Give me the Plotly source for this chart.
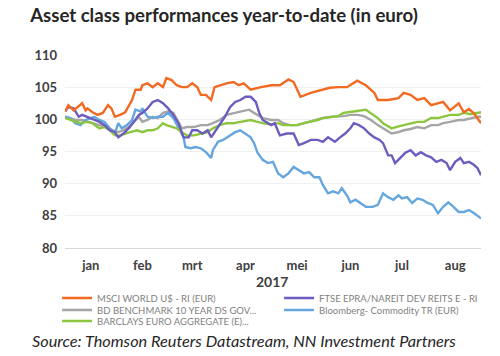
import pandas as pd
import plotly.graph_objects as go

START = pd.Timestamp("2017-01-01")

# ---- data (day offsets from 1 Jan 2017, index values) ----
msci_days = [0, 2, 5, 10, 12, 13, 16, 19, 22, 25, 27, 29, 32, 35, 39, 41, 44, 45, 48, 51,
             54, 57, 59, 62, 65, 68, 71, 74, 77, 79, 82, 85, 87, 90, 94, 98, 101, 104, 108, 114,
             120, 125, 130, 133, 137, 143, 149, 154, 159, 164, 170, 175, 180, 182, 188, 194, 197, 201, 205, 209,
             213, 217, 220, 224, 229, 232, 235, 238, 242]
msci_vals = [101.2, 102.2, 101.4, 102.5, 101.4, 101.7, 101.1, 100.7, 101.0, 102.2,
             101.7, 100.4, 100.7, 101.1, 103.0, 104.6, 104.6, 105.3, 105.6, 105.0,
             105.6, 105.0, 106.4, 106.1, 105.3, 105.0, 105.0, 105.6, 105.0, 103.8,
             103.8, 103.0, 105.0, 105.3, 105.6, 105.8, 105.3, 105.6, 104.6, 105.0,
             105.3, 105.3, 106.2, 105.8, 103.5, 104.1, 104.6, 104.9, 105.0, 105.0,
             106.0, 105.3, 104.1, 103.0, 103.0, 103.3, 104.1, 103.8, 103.0, 103.3,
             102.2, 102.5, 102.7, 101.4, 102.5, 101.1, 101.6, 100.9, 99.4]

ftse_days = [0, 2, 5, 8, 10, 13, 17, 20, 23, 26, 29, 31, 34, 37, 40, 43, 45, 48, 51, 54,
             57, 60, 63, 66, 69, 72, 74, 77, 80, 83, 85, 87, 90, 93, 96, 99, 102, 105, 108, 111,
             113, 115, 120, 122, 125, 129, 133, 136, 139, 143, 147, 150, 153, 157, 160, 163, 166, 168, 171, 174,
             177, 180, 183, 185, 188, 190, 192, 195, 198, 201, 204, 207, 210, 213, 216, 219, 222, 224, 227, 230,
             232, 235, 238, 240, 242]
ftse_vals = [101.2, 101.9, 101.7, 100.4, 100.7, 100.4, 99.9, 99.6, 99.1, 98.3,
             98.0, 97.2, 97.8, 98.6, 99.6, 100.7, 101.0, 101.7, 102.7, 103.0,
             102.5, 101.7, 100.7, 99.4, 97.2, 97.2, 98.3, 98.3, 97.8, 98.3,
             97.2, 98.0, 99.4, 100.4, 101.9, 102.7, 103.0, 103.5, 103.5, 102.7,
             101.0, 99.9, 99.1, 99.4, 97.5, 97.8, 97.8, 96.0, 96.3, 96.8,
             96.8, 96.5, 97.2, 96.5, 97.2, 97.8, 98.6, 99.4, 99.1, 98.6,
             97.8, 97.2, 96.8, 96.3, 94.4, 94.4, 93.2, 94.0, 94.8, 95.2,
             94.4, 94.9, 94.4, 94.1, 93.4, 93.7, 93.2, 92.1, 93.4, 94.0,
             93.2, 93.4, 92.9, 92.4, 91.3]

bd_days = [0, 3, 6, 10, 13, 16, 20, 24, 28, 31, 34, 37, 40, 43, 45, 48, 51, 54, 57, 60,
           63, 66, 68, 71, 75, 79, 83, 86, 90, 94, 98, 102, 107, 112, 115, 120, 124, 127, 131, 135,
           139, 143, 147, 150, 155, 159, 162, 166, 170, 174, 178, 182, 185, 190, 194, 197, 201, 205, 209, 213,
           217, 220, 224, 229, 232, 236, 240, 242]
bd_vals = [100.4, 100.2, 99.9, 99.9, 99.6, 99.4, 99.1, 98.8, 98.3, 98.0,
           98.3, 98.8, 99.6, 100.4, 99.6, 99.9, 100.4, 100.2, 101.0, 101.2,
           101.0, 99.6, 98.6, 98.8, 98.8, 99.1, 99.1, 99.4, 99.9, 100.7,
           101.0, 101.2, 101.5, 100.7, 100.2, 99.9, 99.9, 99.4, 99.1, 99.1,
           99.4, 99.6, 99.9, 100.2, 100.4, 100.4, 100.5, 100.7, 100.7, 100.5,
           99.9, 99.1, 98.6, 97.8, 98.0, 98.3, 98.5, 98.8, 98.6, 99.1,
           99.1, 99.4, 99.6, 99.9, 99.9, 100.2, 100.4, 100.4]

bbg_days = [0, 3, 6, 9, 12, 15, 17, 20, 23, 26, 29, 31, 33, 36, 39, 41, 44, 45, 48, 51,
            54, 57, 60, 63, 66, 69, 70, 73, 76, 79, 82, 85, 86, 89, 92, 96, 99, 102, 105, 108,
            110, 112, 115, 118, 121, 124, 127, 130, 133, 136, 139, 142, 145, 148, 150, 153, 156, 159, 161, 164,
            166, 169, 172, 175, 179, 182, 185, 188, 191, 194, 196, 199, 202, 205, 208, 211, 214, 217, 220, 223,
            226, 229, 232, 235, 238, 242]
bbg_vals = [100.4, 100.2, 99.4, 99.1, 99.9, 100.2, 100.4, 99.9, 99.6, 98.6,
            97.8, 99.4, 98.6, 99.1, 99.9, 101.5, 101.2, 101.7, 100.4, 100.2,
            100.4, 100.4, 101.0, 100.2, 98.8, 97.2, 95.7, 95.5, 95.7, 95.5,
            94.9, 94.0, 95.2, 96.5, 96.8, 97.5, 98.0, 98.3, 97.8, 97.2,
            96.3, 94.8, 93.7, 93.2, 93.4, 91.6, 91.0, 91.6, 92.6, 92.1,
            91.6, 91.8, 91.0, 91.0, 89.8, 88.5, 88.8, 88.5, 89.3, 88.2,
            87.1, 87.5, 87.0, 86.4, 86.4, 86.7, 88.5, 87.9, 87.5, 88.2,
            87.7, 87.9, 87.0, 87.7, 87.5, 87.0, 86.7, 85.4, 86.4, 87.1,
            86.4, 85.6, 85.6, 85.9, 85.4, 84.6]

barc_days = [0, 3, 6, 9, 13, 16, 20, 23, 26, 29, 32, 35, 38, 42, 45, 48, 51, 54, 57, 59,
             62, 65, 68, 71, 75, 79, 83, 86, 90, 94, 98, 102, 108, 112, 115, 120, 124, 127, 131, 135,
             139, 143, 147, 150, 155, 159, 162, 166, 170, 175, 178, 182, 185, 190, 194, 197, 201, 205, 209, 213,
             217, 220, 224, 229, 232, 236, 242]
barc_vals = [100.2, 99.9, 99.6, 99.4, 99.6, 99.4, 98.6, 98.8, 98.3, 97.5,
             97.5, 97.8, 98.0, 98.3, 98.0, 98.3, 98.3, 98.6, 99.4, 99.1,
             98.8, 98.6, 98.0, 97.5, 97.5, 97.8, 98.0, 98.6, 99.1, 99.4,
             99.4, 99.6, 99.9, 99.6, 99.4, 99.2, 99.4, 99.1, 99.1, 99.1,
             99.4, 99.6, 99.9, 100.2, 100.4, 100.5, 101.0, 101.2, 101.3, 101.5,
             101.0, 100.2, 99.4, 98.6, 98.9, 99.1, 99.4, 99.6, 99.6, 100.2,
             100.2, 100.4, 100.7, 100.7, 101.0, 100.8, 101.1]

month_labels = ["jan", "feb", "mrt", "apr", "mei", "jun", "jul", "aug"]
month_mid = ["2017-01-16", "2017-02-15", "2017-03-16", "2017-04-16",
             "2017-05-16", "2017-06-16", "2017-07-16", "2017-08-16"]

# name, days, values, colour, legend row
series = [
    ("BD BENCHMARK 10 YEAR DS GOV...", bd_days, bd_vals, "#A5A5A5", "legend2"),
    ("Bloomberg- Commodity TR (EUR)", bbg_days, bbg_vals, "#66A6DE", "legend2"),
    ("BARCLAYS EURO AGGREGATE (E)...", barc_days, barc_vals, "#8CC63F", "legend3"),
    ("FTSE EPRA/NAREIT DEV REITS E - RI", ftse_days, ftse_vals, "#6D5CBF", "legend"),
    ("MSCI WORLD U$ - RI (EUR)", msci_days, msci_vals, "#F26A21", "legend"),
]

fig = go.Figure()
for name, days, vals, color, lg in series:
    dates = START + pd.to_timedelta(days, unit="D")
    fig.add_trace(go.Scatter(x=dates, y=vals, mode="lines", name=name, legend=lg,
                             line=dict(color=color, width=2.4)))

# the page body adds an 8px offset, so the figure is 492x348
W, H = 492, 348
legend_common = dict(orientation="h", xref="paper", yref="paper",
                     x=-0.019, xanchor="left", yanchor="middle",
                     font=dict(family="Lato", size=9.5, color="#7F7F7F"), entrywidth=177,
                     tracegroupgap=0, itemwidth=30, bgcolor="rgba(0,0,0,0)")

fig.update_layout(
    width=W, height=H,
    margin=dict(l=57, r=19, t=47, b=108, autoexpand=False),
    paper_bgcolor="white", plot_bgcolor="white",
    font=dict(family="Lato, Open Sans, sans-serif", color="#595959"),
    title=dict(text="<b>Asset class performances year-to-date (in euro)</b>",
               x=0.045, xanchor="left", y=1 - 0.5 / H, yanchor="top",
               font=dict(family="Lato", size=18.6, color="#262626")),
    showlegend=True,
    legend=dict(**legend_common, y=-0.259, traceorder="reversed"),
    legend2=dict(**legend_common, y=-0.321, traceorder="normal"),
    legend3=dict(**legend_common, y=-0.378, traceorder="normal"),
)
fig.update_xaxes(
    range=["2017-01-01", "2017-08-31"],
    tickvals=month_mid, ticktext=month_labels,
    showgrid=False, showline=True, linecolor="#D9D9D9", linewidth=1,
    ticks="", ticklabelstandoff=5,
    tickfont=dict(size=13, color="#404040", weight="bold"),
)
fig.update_yaxes(
    range=[80, 110], dtick=5, showgrid=True, gridcolor="#F0F0F0",
    zeroline=False, ticks="", tickfont=dict(size=13, color="#404040", weight="bold"),
    ticklabelstandoff=7,
)
fig.add_annotation(text="<b>2017</b>", xref="paper", yref="paper", x=0.4976, y=-0.176,
                   xanchor="center", yanchor="middle", showarrow=False,
                   font=dict(family="Lato", size=14, color="#404040"))
fig.add_annotation(text="<i>Source: Thomson Reuters Datastream, NN Investment Partners</i>",
                   xref="paper", yref="paper", x=-0.084, y=-0.477,
                   xanchor="left", yanchor="middle", showarrow=False,
                   font=dict(family="Lato", size=16.3, color="#262626"))

fig.write_html("out.html")
